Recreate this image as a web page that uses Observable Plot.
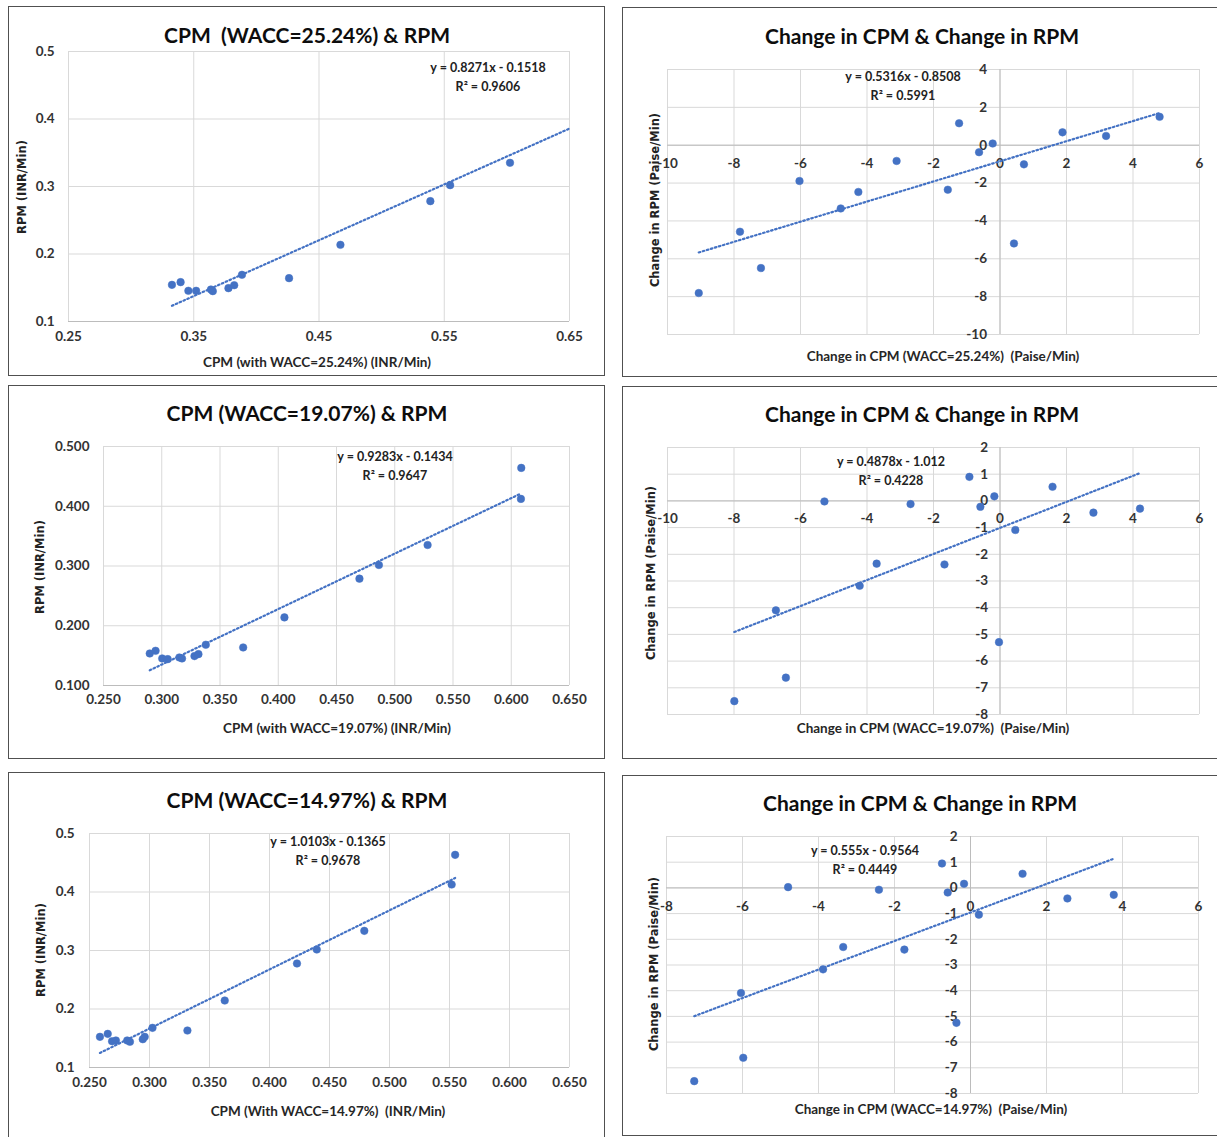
<!DOCTYPE html>
<html><head><meta charset="utf-8">
<script src="https://cdn.jsdelivr.net/npm/d3@7"></script>
<script src="https://cdn.jsdelivr.net/npm/@observablehq/plot@0.6"></script>
<style>
body{margin:0;background:#fff;}
#wrap{position:relative;width:1217px;height:1137px;overflow:hidden;background:#fff;font-family:Lato,"Open Sans",sans-serif;}
.panel{position:absolute;border:1.5px solid #505050;box-sizing:border-box;}
.t{position:absolute;white-space:pre;transform:translate(-50%,-50%);font-weight:bold;color:#111;line-height:1;}
.title{font-size:21px;color:#0d0d0d;}
.eq{font-size:12.5px;color:#222;}
.xt{font-size:13.5px;color:#262626;}
.yt{font-family:"DejaVu Sans",sans-serif;font-size:11.5px;color:#222;transform:translate(-50%,-50%) rotate(-90deg);}
</style></head>
<body><div id="wrap"></div>
<script>
// ---------- DATA ----------
// Panel 1: CPM (WACC=25.24%) vs RPM (INR/Min)
const cpm2524 = [0.3326,0.3395,0.3457,0.3519,0.3637,0.3652,0.3777,0.3823,0.3885,0.4261,0.4671,0.5389,0.5547,0.6025];
const rpm2524 = [0.1543,0.1583,0.1455,0.1455,0.1474,0.1450,0.1494,0.1538,0.1692,0.1642,0.2136,0.2783,0.3020,0.3351];
// Panel 3: CPM (WACC=19.07%) vs RPM
const cpm1907 = [0.2897,0.2947,0.3004,0.3051,0.3151,0.3174,0.3281,0.3315,0.3378,0.3699,0.4053,0.4697,0.4864,0.5282,0.6083,0.6086];
const rpm1907 = [0.1536,0.1581,0.1453,0.1441,0.1469,0.1453,0.1492,0.1525,0.1682,0.1637,0.2140,0.2788,0.3017,0.3352,0.4123,0.4642];
// Panel 5: CPM (WACC=14.97%) vs RPM
const cpm1497 = [0.2587,0.2652,0.2688,0.2720,0.2814,0.2837,0.2944,0.2960,0.3025,0.3316,0.3627,0.4229,0.4394,0.4790,0.5518,0.5547];
const rpm1497 = [0.1524,0.1575,0.1450,0.1462,0.1462,0.1439,0.1484,0.1524,0.1678,0.1632,0.2145,0.2778,0.3017,0.3336,0.4128,0.4635];
// Panel 2: change in CPM (WACC=25.24%) vs change in RPM (Paise/Min)
const dCpm2524 = [-9.06,-7.82,-7.19,-6.03,-4.79,-4.26,-3.11,-1.23,-1.57,-0.63,-0.22,0.42,0.72,1.88,3.19,4.80];
const dRpm2524 = [-7.81,-4.57,-6.49,-1.89,-3.34,-2.47,-0.83,1.16,-2.35,-0.37,0.09,-5.19,-1.01,0.68,0.49,1.50];
// Panel 4: change in CPM (WACC=19.07%) vs change in RPM
const dCpm1907 = [-7.99,-6.74,-6.44,-5.28,-4.22,-3.71,-2.69,-1.67,-0.92,-0.59,-0.17,-0.03,0.46,1.58,2.81,4.21];
const dRpm1907 = [-7.50,-4.10,-6.62,-0.02,-3.18,-2.35,-0.12,-2.38,0.90,-0.22,0.17,-5.29,-1.09,0.53,-0.44,-0.29];
// Panel 6: change in CPM (WACC=14.97%) vs change in RPM
const dCpm1497 = [-7.27,-6.04,-5.98,-4.80,-3.88,-3.35,-2.41,-1.74,-0.75,-0.60,-0.17,-0.37,0.22,1.37,2.55,3.77];
const dRpm1497 = [-7.52,-4.09,-6.61,0.03,-3.17,-2.30,-0.07,-2.40,0.95,-0.18,0.16,-5.25,-1.04,0.55,-0.41,-0.27];

// Trendlines (slope, intercept, x-start, x-end) as printed on the chart
const trendSlope     = [0.8271, 0.5316, 0.9283, 0.4878, 1.0103, 0.555];
const trendIntercept = [-0.1518, -0.8508, -0.1434, -1.012, -0.1365, -0.9564];
const trendStart     = [0.3326, -9.06, 0.2897, -7.99, 0.2587, -7.27];
const trendEnd       = [0.65, 4.80, 0.6086, 4.21, 0.5547, 3.77];
const trendR2        = ["0.9606", "0.5991", "0.9647", "0.4228", "0.9678", "0.4449"];
const trendEqText    = ["y = 0.8271x - 0.1518", "y = 0.5316x - 0.8508", "y = 0.9283x - 0.1434", "y = 0.4878x - 1.012", "y = 1.0103x - 0.1365", "y = 0.555x - 0.9564"];

// Ticks
const ticksCpmA = [0.25,0.35,0.45,0.55,0.65];
const ticksCpmB = [0.25,0.30,0.35,0.40,0.45,0.50,0.55,0.60,0.65];
const ticksRpm  = [0.1,0.2,0.3,0.4,0.5];
const ticksDx10 = [-10,-8,-6,-4,-2,0,2,4,6];
const ticksDx8  = [-8,-6,-4,-2,0,2,4,6];
const ticksDy10 = [-10,-8,-6,-4,-2,0,2,4];
const ticksDy8  = [-8,-7,-6,-5,-4,-3,-2,-1,0,1,2];

// Titles
const titles = ["CPM  (WACC=25.24%) & RPM","Change in CPM & Change in RPM","CPM (WACC=19.07%) & RPM","Change in CPM & Change in RPM","CPM (WACC=14.97%) & RPM","Change in CPM & Change in RPM"];
const xTitles = ["CPM (with WACC=25.24%) (INR/Min)","Change in CPM (WACC=25.24%)  (Paise/Min)","CPM (with WACC=19.07%) (INR/Min)","Change in CPM (WACC=19.07%)  (Paise/Min)","CPM (With WACC=14.97%)  (INR/Min)","Change in CPM (WACC=14.97%)  (Paise/Min)"];
const yTitles = ["RPM (INR/Min)","Change in RPM (Paise/Min)","RPM (INR/Min)","Change in RPM (Paise/Min)","RPM (INR/Min)","Change in RPM (Paise/Min)"];

// ---------- LAYOUT ----------
const f1 = d3.format(".2f"), f3 = d3.format(".3f"), f1d = d => String(+d.toFixed(1)), fi = d => String(d);
const panels = [
  {xs:cpm2524, ys:rpm2524, xd:[0.25,0.65], yd:[0.1,0.5], xt:ticksCpmA, yt:ticksRpm, xf:f1, yf:f1d, cross:false,
   box:[8,6,605,376], plot:[68,51,569,321], title:[307,34], eq:[488,68], xl:[317,363], yl:[23,187], xdy:19, ydx:14},
  {xs:dCpm2524, ys:dRpm2524, xd:[-10,6], yd:[-10,4], xt:ticksDx10, yt:ticksDy10, xf:fi, yf:fi, cross:true,
   box:[622,7,1240,377], plot:[667,69,1199,334], title:[922,35], eq:[903,77], xl:[943,357], yl:[656,200], xdy:18, ydx:13},
  {xs:cpm1907, ys:rpm1907, xd:[0.25,0.65], yd:[0.1,0.5], xt:ticksCpmB, yt:ticksRpm, xf:f3, yf:f3, cross:false,
   box:[8,385,605,759], plot:[103,446,569,685], title:[307,412], eq:[395,457], xl:[337,729], yl:[41,567], xdy:18, ydx:14},
  {xs:dCpm1907, ys:dRpm1907, xd:[-10,6], yd:[-8,2], xt:ticksDx10, yt:ticksDy8, xf:fi, yf:fi, cross:true,
   box:[622,386,1240,759], plot:[667,447,1199,714], title:[922,413], eq:[891,462], xl:[933,729], yl:[652,573], xdy:18, ydx:12},
  {xs:cpm1497, ys:rpm1497, xd:[0.25,0.65], yd:[0.1,0.5], xt:ticksCpmB, yt:ticksRpm, xf:f3, yf:f1d, cross:false,
   box:[8,772,605,1150], plot:[89,833,569,1067], title:[307,799], eq:[328,842], xl:[328,1112], yl:[42,950], xdy:19, ydx:15},
  {xs:dCpm1497, ys:dRpm1497, xd:[-8,6], yd:[-8,2], xt:ticksDx8, yt:ticksDy8, xf:fi, yf:fi, cross:true,
   box:[622,775,1240,1136], plot:[666,836,1198,1093], title:[920,802], eq:[865,851], xl:[931,1110], yl:[655,964], xdy:19, ydx:13}
];

const wrap = document.getElementById("wrap");
function addText(cls, txt, x, y){
  const d = document.createElement("div");
  d.className = "t " + cls; d.textContent = txt;
  d.style.left = x + "px"; d.style.top = y + "px";
  wrap.append(d);
}

panels.forEach((c, i) => {
  const [L,T,R,B] = c.box;
  const [pl,pt,pr,pb] = c.plot;
  const border = document.createElement("div");
  border.className = "panel";
  Object.assign(border.style, {left:L+"px", top:T+"px", width:(R-L)+"px", height:(B-T)+"px"});
  wrap.append(border);

  const pts = c.xs.map((x, k) => ({x, y: c.ys[k]}));
  const tr = [trendStart[i], trendEnd[i]].map(x => ({x, y: trendSlope[i]*x + trendIntercept[i]}));
  const grid = "#d9d9d9", axisC = "#bcbcbc";
  const marks = [
    Plot.ruleX(c.xt, {stroke: grid, strokeWidth: 1}),
    Plot.ruleY(c.yt, {stroke: grid, strokeWidth: 1})
  ];
  if (c.cross) {
    marks.push(
      Plot.ruleX([0], {stroke: axisC, strokeWidth: 1}),
      Plot.ruleY([0], {stroke: axisC, strokeWidth: 1}),
      Plot.text(c.xt, {x: d => d, y: () => 0, dy: c.xdy, text: c.xf}),
      Plot.text(c.yt, {x: () => 0, y: d => d, dx: -c.ydx, textAnchor: "end", text: c.yf})
    );
  } else {
    marks.push(
      Plot.ruleY([c.yd[0]], {stroke: axisC, strokeWidth: 1}),
      Plot.text(c.xt, {x: d => d, frameAnchor: "bottom", dy: c.xdy, text: c.xf}),
      Plot.text(c.yt, {y: d => d, frameAnchor: "left", dx: -c.ydx, textAnchor: "end", text: c.yf})
    );
  }
  marks.push(
    Plot.line(tr, {x: "x", y: "y", stroke: "#4472C4", strokeWidth: 2.2, strokeDasharray: "1.6,2.6"}),
    Plot.dot(pts, {x: "x", y: "y", r: 3.8, fill: "#4472C4", stroke: "#4472C4", strokeWidth: 0.5})
  );
  const svg = Plot.plot({
    width: R - L, height: B - T,
    marginLeft: pl - L, marginRight: R - pr, marginTop: pt - T, marginBottom: B - pb,
    x: {domain: c.xd, axis: null}, y: {domain: c.yd, axis: null},
    style: {fontFamily: "Lato, sans-serif", fontSize: "13.5px", fontWeight: "bold", color: "#333", background: "transparent", overflow: "visible"},
    marks
  });
  svg.style.position = "absolute";
  svg.style.left = L + "px"; svg.style.top = T + "px";
  wrap.append(svg);

  addText("title", titles[i], c.title[0], c.title[1]);
  addText("eq", trendEqText[i], c.eq[0], c.eq[1]);
  addText("eq", "R\u00B2 = " + trendR2[i], c.eq[0], c.eq[1] + 19);
  addText("xt", xTitles[i], c.xl[0], c.xl[1]);
  addText("yt", yTitles[i], c.yl[0], c.yl[1]);
});
</script></body></html>
